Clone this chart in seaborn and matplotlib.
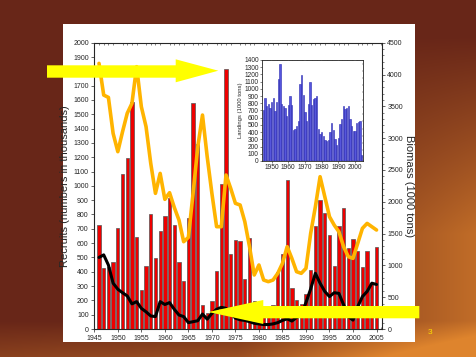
import numpy as np
import matplotlib
matplotlib.use('Agg')
import matplotlib.pyplot as plt
from matplotlib.patches import Polygon
from matplotlib.ticker import MultipleLocator
import seaborn as sns

# recruits (left axis), 1946-2005
years = list(range(1946, 2006))
recruits = [730, 425, 430, 465, 705, 1085, 1195, 1583, 640, 272,
            440, 805, 498, 684, 789, 917, 726, 470, 338, 778,
            1580, 1292, 168, 110, 198, 403, 1013, 1818, 524, 622,
            612, 347, 638, 198, 110, 140, 150, 165, 398, 524,
            1038, 289, 203, 172, 242, 410, 722, 899, 812, 659,
            438, 719, 843, 568, 626, 547, 433, 547, 320, 575]

# biomass (right axis, 1000 tons)
biomass = [4175, 3677, 3640, 3075, 2787, 3100, 3390, 3546, 4123, 3494,
           3180, 2603, 2132, 2446, 2038, 2142, 1912, 1713, 1372, 1440,
           2132, 2865, 3363, 2708, 2132, 1608, 1608, 2420, 2210, 1975,
           1949, 1686, 1294, 849, 1006, 770, 744, 770, 875, 1032,
           1294, 1110, 901, 875, 953, 1503, 1922, 2394, 2080, 1765,
           1634, 1529, 1294, 1137, 1110, 1346, 1582, 1660, 1608, 1556]
ssb = [1125, 1165, 1005, 720, 625, 570, 520, 395, 430, 325,
       270, 205, 195, 430, 385, 415, 310, 220, 195, 100,
       115, 130, 235, 155, 245, 310, 340, 325, 250, 170,
       145, 135, 115, 90, 80, 70, 70, 80, 100, 135,
       160, 125, 180, 225, 415, 630, 875, 720, 590, 510,
       570, 560, 380, 195, 140, 350, 510, 590, 720, 700]

# inset landings, 1945-2004
land_years = list(range(1945, 2005))
landings = [700, 870, 760, 790, 740, 820, 870, 690, 820, 1140,
            1340, 790, 760, 740, 620, 780, 900, 770, 430, 450,
            480, 560, 1070, 1190, 920, 680, 560, 790, 1100, 780,
            860, 880, 900, 440, 380, 400, 340, 290, 280, 290,
            400, 520, 430, 300, 220, 320, 510, 580, 760, 720,
            730, 760, 580, 480, 410, 420, 530, 540, 560, 90]

sns.set_style('ticks')
plt.rcParams['font.family'] = ['Liberation Sans', 'DejaVu Sans']

fig = plt.figure(figsize=(4.76, 3.57), dpi=100)

# slide background
H, W = 357, 476
yy, xx = np.mgrid[0:1:H * 1j, 0:1:W * 1j]
dark = np.array([104, 38, 24]) / 255
orange = np.array([222, 132, 45]) / 255
w = np.clip((xx - 0.5) * 1.5, 0, 1) * np.clip((yy - 0.1) * 1.8, 0, 1)
w = np.clip(w + np.clip((yy - 0.9) * 8, 0, 1) * (0.35 + 0.4 * xx), 0, 1)
img = dark[None, None, :] * (1 - w[..., None]) + orange[None, None, :] * w[..., None]
bg = fig.add_axes([0, 0, 1, 1])
bg.imshow(img, aspect='auto')
bg.axis('off')

panel = fig.add_axes([63 / 476, 1 - 342 / 357, 352 / 476, 318 / 357])
panel.set_facecolor('white')
panel.set_xticks([])
panel.set_yticks([])
for s in panel.spines.values():
    s.set_visible(False)

ax = fig.add_axes([94.3 / 476, 1 - 329 / 357, 287.4 / 476, 286.3 / 357])
sns.barplot(x=years, y=recruits, native_scale=True, color='#ee0000', width=0.7,
            edgecolor='#555555', linewidth=0.5, saturation=1, ax=ax)
ax.set_xlim(1945, 2006.1)
ax.set_ylim(0, 2000)
ax.set_xticks(range(1945, 2006, 5))
ax.set_yticks(range(0, 2001, 100))
ax.xaxis.set_minor_locator(MultipleLocator(1))
ax.tick_params(labelsize=5, length=2.5, width=0.5, pad=1.5)
ax.tick_params(axis='x', which='minor', top=True, direction='in', length=1.5, width=0.4)
ax.set_ylabel('Recruits (numbers in thousands)', fontsize=8, labelpad=2)
for s in ax.spines.values():
    s.set_linewidth(0.6)
    s.set_visible(True)

ax2 = ax.twinx()
sns.lineplot(x=years, y=biomass, color='#ffb400', lw=2.6, ax=ax2)
sns.lineplot(x=years, y=ssb, color='black', lw=2.2, ax=ax2)
ax2.set_ylim(0, 4500)
ax2.set_yticks(range(0, 4501, 500))
ax2.yaxis.set_minor_locator(MultipleLocator(100))
ax2.tick_params(labelsize=5, length=2.5, width=0.5, pad=1.5)
ax2.tick_params(which='minor', length=1.5, width=0.4)
ax2.set_ylabel('Biomass (1000 tons)', fontsize=8, rotation=270, labelpad=8)

ins = fig.add_axes([262.3 / 476, 1 - 161 / 357, 101 / 476, 101 / 357])
ins.set_facecolor('white')
sns.barplot(x=land_years, y=landings, native_scale=True, color='#5555dd', width=0.9,
            edgecolor='#2a2ab0', linewidth=0.4, saturation=1, ax=ins)
ins.set_xlim(1944.4, 2005)
ins.set_ylim(0, 1400)
ins.set_xticks(range(1950, 2001, 10))
ins.set_yticks(range(0, 1401, 100))
ins.xaxis.set_minor_locator(MultipleLocator(1))
ins.yaxis.set_minor_locator(MultipleLocator(50))
ins.tick_params(labelsize=4.8, length=1.5, width=0.4, pad=1)
ins.tick_params(which='minor', top=True, right=True, direction='in', length=1, width=0.3)
ins.set_ylabel('Landings (1000 tons)', fontsize=4.2, labelpad=1)
for s in ins.spines.values():
    s.set_linewidth(0.6)
    s.set_visible(True)

# yellow arrows on top
over = fig.add_axes([0, 0, 1, 1])
over.set_xlim(0, W)
over.set_ylim(H, 0)
over.axis('off')
over.add_patch(Polygon([(47, 65.3), (175.7, 65.3), (175.7, 59.3), (218.3, 70.7),
                        (175.7, 82.3), (175.7, 77.7), (47, 77.7)], color='#ffff00', lw=0))
over.add_patch(Polygon([(419.3, 306), (263.3, 306), (263.3, 300), (208.3, 312),
                        (263.3, 324), (263.3, 318.3), (419.3, 318.3)], color='#ffff00', lw=0))
over.text(430, 333, '3', color='#ffe000', fontsize=6, ha='center', va='center')

fig.savefig('out.png', dpi=100)
